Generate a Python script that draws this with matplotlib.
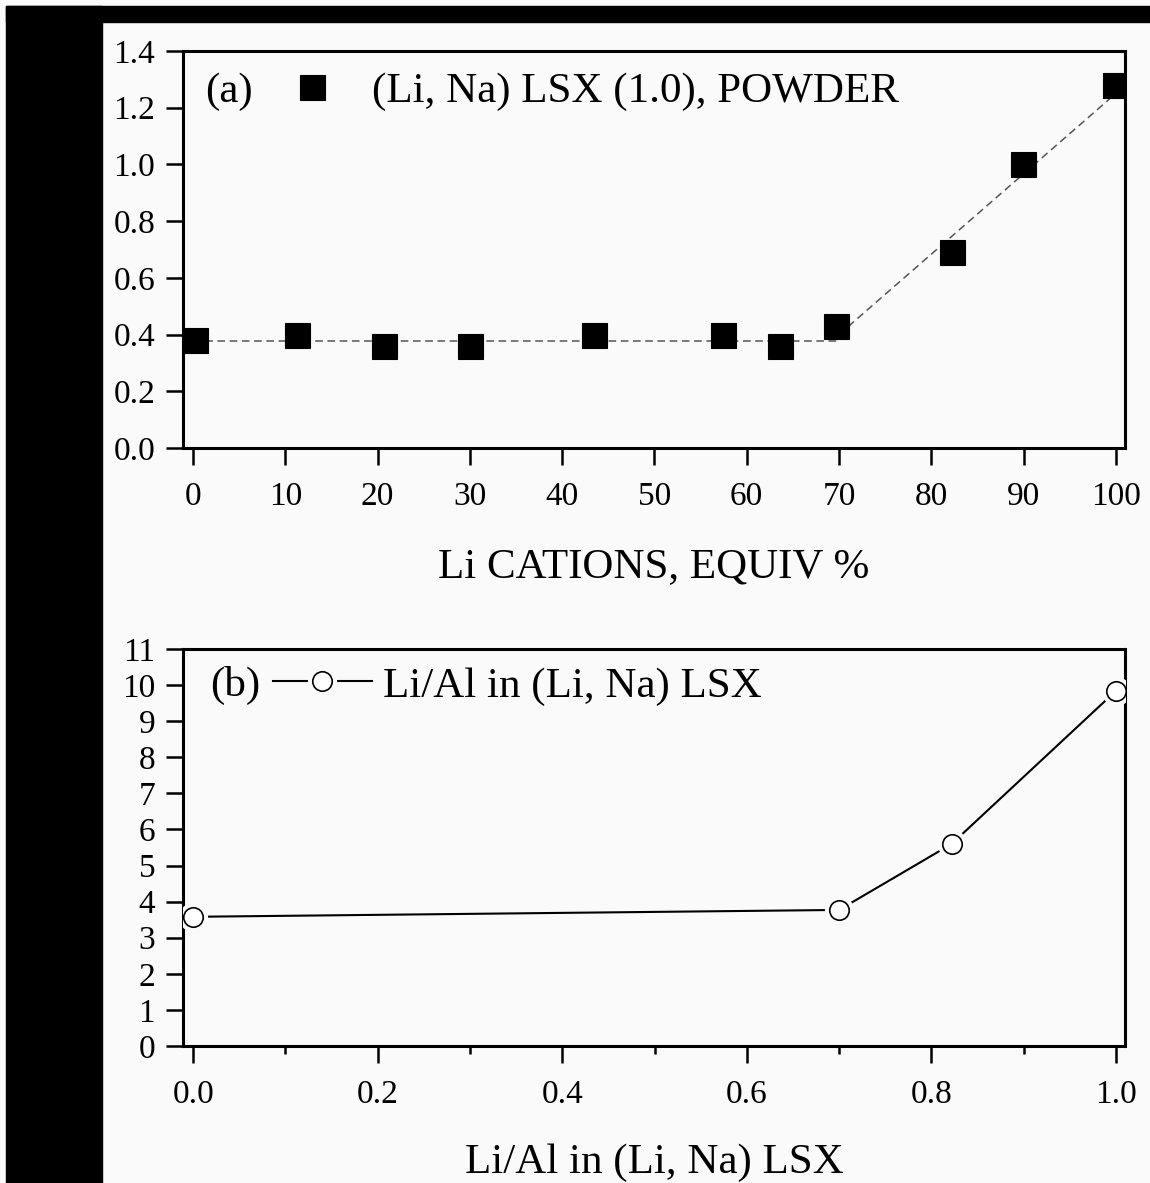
import matplotlib
matplotlib.use("Agg")
import matplotlib.pyplot as plt
from matplotlib.patches import Rectangle
from matplotlib.ticker import MultipleLocator, FormatStrFormatter
from matplotlib.legend_handler import HandlerTuple

plt.rcParams['font.family'] = ['Liberation Serif', 'DejaVu Serif']

# (a) powder data
li_equiv = [0.2, 11.3, 20.7, 30.0, 43.4, 57.4, 63.6, 69.7, 82.3, 89.9, 99.9]
powder = [0.38, 0.40, 0.36, 0.36, 0.40, 0.40, 0.36, 0.43, 0.69, 1.00, 1.28]
# dashed guide lines
flat_x = [0, 70]
flat_y = [0.378, 0.378]
rise_x = [70, 100]
rise_y = [0.40, 1.25]

# (b) Li/Al ratio
li_al = [0.0, 0.70, 0.822, 1.0]
ratio = [3.58, 3.77, 5.60, 9.84]

BG = '#fafafa'
W, H = 1150, 1183
fig = plt.figure(figsize=(W / 100, H / 100), dpi=100, facecolor=BG)

# black scan borders
fig.patches.append(Rectangle((6 / W, 1 - 22 / H), 1, 16 / H, transform=fig.transFigure,
                             color='black', zorder=0))
fig.patches.append(Rectangle((6 / W, 0), 96 / W, 1 - 6 / H, transform=fig.transFigure,
                             color='black', zorder=0))

ax1 = fig.add_axes([183 / W, 1 - 448 / H, 942 / W, 397 / H], facecolor=BG)
ax2 = fig.add_axes([183 / W, 1 - 1046 / H, 942 / W, 397 / H], facecolor=BG)


def style(ax):
    for s in ax.spines.values():
        s.set_linewidth(2.2)
    ax.tick_params(direction='out', length=12, width=1.8, labelsize=24, pad=8,
                   top=False, right=False)
    ax.tick_params(axis='x', pad=12)
    ax.tick_params(which='minor', direction='out', length=6, width=1.8)


# ---- panel (a) ----
ax1.plot(flat_x, flat_y, color='#555555', lw=1.1, dashes=(5, 3), zorder=2)
ax1.plot(rise_x, rise_y, color='#555555', lw=1.1, dashes=(5, 3), zorder=2)
ax1.plot(li_equiv, powder, 's', color='black', markersize=18, mew=0.8, zorder=3,
         label='(Li, Na) LSX (1.0), POWDER')
ax1.set_xlim(-1.1, 101)
ax1.set_ylim(0, 1.4)
ax1.xaxis.set_major_locator(MultipleLocator(10))
ax1.yaxis.set_major_locator(MultipleLocator(0.2))
ax1.yaxis.set_major_formatter(FormatStrFormatter('%.1f'))
style(ax1)
ax1.set_xlabel('Li CATIONS, EQUIV %', fontsize=31, labelpad=26)
ax1.legend(loc='center left', bbox_to_anchor=(0.1146, 0.898), frameon=False,
           fontsize=31, handlelength=1.0, handletextpad=0.88, borderpad=0,
           borderaxespad=0, numpoints=1)
ax1.text(0.0234, 0.898, '(a)', transform=ax1.transAxes, fontsize=31,
         ha='left', va='center')

# ---- panel (b) ----
ln, = ax2.plot(li_al, ratio, '-', color='black', lw=1.5, zorder=2)
halo, = ax2.plot(li_al, ratio, 'o', color=BG, markersize=21, mew=0, zorder=3)
circ, = ax2.plot(li_al, ratio, 'o', mfc='white', mec='black', markersize=14,
                 mew=1.2, zorder=4)
ax2.set_xlim(-0.011, 1.0098)
ax2.set_ylim(0, 11)
ax2.xaxis.set_major_locator(MultipleLocator(0.2))
ax2.xaxis.set_minor_locator(MultipleLocator(0.1))
ax2.xaxis.set_major_formatter(FormatStrFormatter('%.1f'))
ax2.yaxis.set_major_locator(MultipleLocator(1))
style(ax2)
ax2.set_xlabel('Li/Al in (Li, Na) LSX', fontsize=31, labelpad=24)
ax2.legend([(ln, halo, circ)], ['Li/Al in (Li, Na) LSX'],
           handler_map={tuple: HandlerTuple(ndivide=1)},
           loc='center left', bbox_to_anchor=(0.0955, 0.907), frameon=False,
           fontsize=31, handlelength=2.3, handletextpad=0.26, borderpad=0,
           borderaxespad=0, numpoints=1)
ax2.text(0.0287, 0.907, '(b)', transform=ax2.transAxes, fontsize=31,
         ha='left', va='center')

fig.savefig('out.png', dpi=100, facecolor=BG)
